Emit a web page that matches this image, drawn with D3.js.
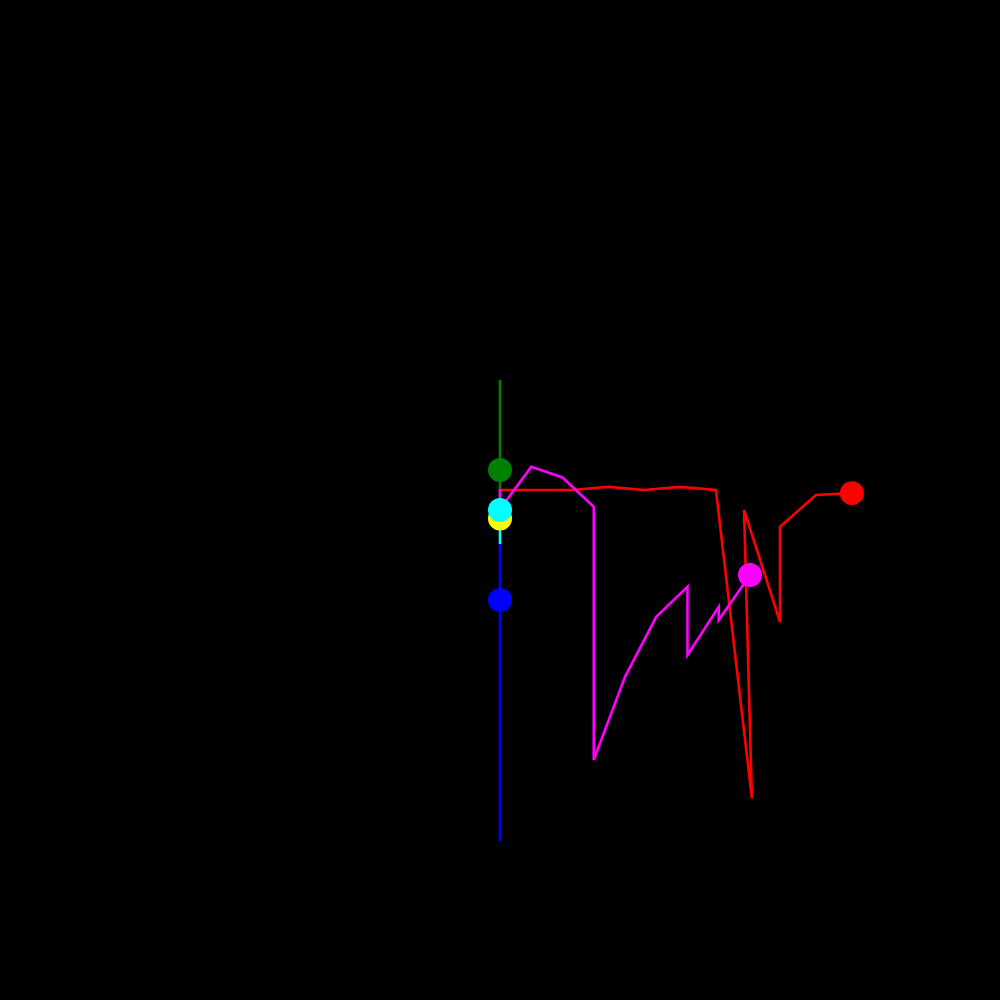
<!DOCTYPE html>
<html>
<head>
<meta charset="utf-8">
<script src="https://cdn.jsdelivr.net/npm/d3@7"></script>
<style>
  html, body { margin: 0; padding: 0; background: #000; }
  svg { display: block; }
</style>
</head>
<body>
<svg id="chart" width="1000" height="1000"></svg>
<script>
// ---- data (values in chart units) ----
const seriesNames = ["green", "blue", "cyan", "red", "magenta"];

const greenX = [0, 0];
const greenY = [3.84, 0.06];
const greenMarker = [0, 0.96];

const cyanX = [0, 0];
const cyanY = [0.06, -1.41];
const cyanMarker = [0, -0.32];

const blueX = [0, 0];
const blueY = [-1.41, -10.91];
const blueMarker = [0, -3.2];

const yellowMarker = [0, -0.59];

const redX = [0, 1.15, 2.3, 3.46, 4.61, 5.76, 6.91, 8.06, 7.81, 8.96, 8.96, 10.11, 11.26];
const redY = [0.32, 0.32, 0.32, 0.42, 0.32, 0.42, 0.32, -9.54, -0.32, -3.9, -0.86, 0.16, 0.22];

const magentaX = [0, 0, 1, 2, 3, 3, 4, 5, 6, 6, 7, 7, 8];
const magentaY = [0.35, -0.29, 1.06, 0.72, -0.22, -8.32, -5.66, -3.74, -2.78, -4.96, -3.42, -3.84, -2.4];

const colors = {
  green: "#008000", blue: "#0000ff", cyan: "#00ffff",
  yellow: "#ffff00", red: "#ff0000", magenta: "#ff00ff"
};

// ---- drawing ----
const svg = d3.select("#chart");
svg.append("rect").attr("width", 1000).attr("height", 1000).attr("fill", "#000");

const x = d3.scaleLinear().domain([-16, 16]).range([0, 1000]);
const y = d3.scaleLinear().domain([-16, 16]).range([1000, 0]);

const line = d3.line().x(d => x(d[0])).y(d => y(d[1]));
const zip = (xs, ys) => xs.map((v, i) => [v, ys[i]]);

const paths = [
  { name: "green", pts: zip(greenX, greenY) },
  { name: "blue", pts: zip(blueX, blueY) },
  { name: "cyan", pts: zip(cyanX, cyanY) },
  { name: "red", pts: zip(redX, redY) },
  { name: "magenta", pts: zip(magentaX, magentaY) }
];

svg.append("g").selectAll("path")
  .data(paths)
  .join("path")
  .attr("d", d => line(d.pts))
  .attr("fill", "none")
  .attr("stroke", d => colors[d.name])
  .attr("stroke-width", 2.6)
  .attr("stroke-linejoin", "miter");

const markers = [
  { name: "green", p: greenMarker },
  { name: "blue", p: blueMarker },
  { name: "magenta", p: [magentaX[magentaX.length - 1], magentaY[magentaY.length - 1]] },
  { name: "red", p: [redX[redX.length - 1], redY[redY.length - 1]] },
  { name: "yellow", p: yellowMarker },
  { name: "cyan", p: cyanMarker }
];

svg.append("g").selectAll("circle")
  .data(markers)
  .join("circle")
  .attr("cx", d => x(d.p[0]))
  .attr("cy", d => y(d.p[1]))
  .attr("r", 12)
  .attr("fill", d => colors[d.name]);
</script>
</body>
</html>
